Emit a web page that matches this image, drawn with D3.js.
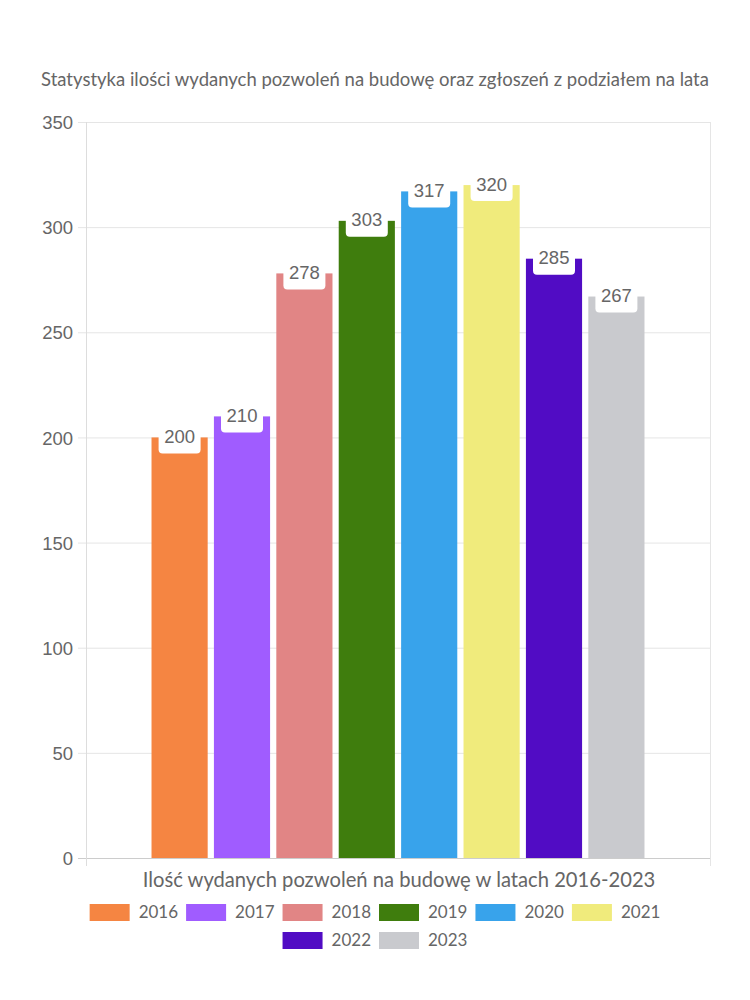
<!DOCTYPE html>
<html><head><meta charset="utf-8">
<script src="https://cdn.jsdelivr.net/npm/d3@7"></script>
<style>body{margin:0;background:#fff}svg{display:block}</style>
</head><body>
<script>
const years = ["2016","2017","2018","2019","2020","2021","2022","2023"];
const values = [200,210,278,303,317,320,285,267];
const colors = ["#F58542","#A05CFF","#E18585","#3F7D0D","#38A3EB","#F0EB7C","#510CC4","#C9CACE"];
const yTicks = [0,50,100,150,200,250,300,350];
const title = "Statystyka ilości wydanych pozwoleń na budowę oraz zgłoszeń z podziałem na lata";
const xTitle = "Ilość wydanych pozwoleń na budowę w latach 2016-2023";
const category = ["Ilość wydanych pozwoleń"];

const W=750,H=1000;
const svg=d3.select("body").append("svg").attr("width",W).attr("height",H);
const L=86,R=710,T=122,B=858;
const textFont="Lato, 'Noto Sans', sans-serif";
const numFont="'Liberation Sans', Arial, sans-serif";
const gray="#666";

function fitText(sel,target){
  sel.attr("font-size",10);
  const w=sel.node().getComputedTextLength();
  sel.attr("font-size",(10*target/w).toFixed(2));
}

const tt=svg.append("text").attr("x",375).attr("y",86).attr("text-anchor","middle")
  .attr("font-family",textFont).attr("fill",gray).text(title);
fitText(tt,668);

const y=d3.scaleLinear().domain([0,350]).range([B,T]);
const x0=d3.scaleBand().domain(category).range([L,R]).paddingInner(0).paddingOuter(0.125);
const x1=d3.scaleBand().domain(years).range([0,x0.bandwidth()]).paddingInner(0.1).paddingOuter(0.05);

// grid
svg.append("g").selectAll("line").data(yTicks).join("line")
  .attr("x1",L-8).attr("x2",R).attr("y1",d=>y(d)+0.5).attr("y2",d=>y(d)+0.5)
  .attr("stroke",d=>d===0?"#ccc":"#e5e5e5");
svg.append("line").attr("x1",L+0.5).attr("x2",L+0.5).attr("y1",T).attr("y2",B+8).attr("stroke","#ddd");
svg.append("line").attr("x1",R+0.5).attr("x2",R+0.5).attr("y1",T).attr("y2",B+8).attr("stroke","#e5e5e5");

const yAxis=d3.axisLeft(y).tickValues(yTicks).tickSize(0).tickPadding(13);
const ga=svg.append("g").attr("transform",`translate(${L},0)`).call(yAxis);
ga.select(".domain").remove();
ga.selectAll("text").attr("font-family",numFont).attr("font-size",18.5).attr("fill",gray).attr("dy","0.36em");

// bars
const g=svg.append("g").attr("transform",`translate(${x0(category[0])},0)`);
g.selectAll("rect").data(years).join("rect")
  .attr("x",(d)=>x1(d)).attr("width",x1.bandwidth())
  .attr("y",(d,i)=>y(values[i])).attr("height",(d,i)=>B-y(values[i]))
  .attr("fill",(d,i)=>colors[i]);

// labels
const lab=g.selectAll("g.lab").data(years).join("g").attr("class","lab")
  .attr("transform",(d,i)=>`translate(${x1(d)+x1.bandwidth()/2},${y(values[i])})`);
lab.append("path").attr("fill","#fff")
  .attr("d",()=>{const w=42,h=16,r=4,t=-12;return `M${-w/2},${t}H${w/2}V${h-r}Q${w/2},${h} ${w/2-r},${h}H${-w/2+r}Q${-w/2},${h} ${-w/2},${h-r}Z`;});
lab.append("text").attr("text-anchor","middle").attr("y",5.5)
  .attr("font-family",numFont).attr("font-size",18.5).attr("fill",gray)
  .text((d,i)=>values[i]);

// x title
const xt=svg.append("text").attr("x",(L+R)/2+1).attr("y",887).attr("text-anchor","middle")
  .attr("font-family",textFont).attr("fill",gray).text(xTitle);
fitText(xt,513);

// legend
const rows=[years.slice(0,6),years.slice(6)];
const rowY=[912,940];
rows.forEach((row,ri)=>{
  const lg=svg.append("g");
  let xx=0;
  row.forEach(yr=>{
    const i=years.indexOf(yr);
    const it=lg.append("g").attr("transform",`translate(${xx},0)`);
    it.append("rect").attr("x",0).attr("y",-8).attr("width",40).attr("height",17).attr("fill",colors[i]);
    const t=it.append("text").attr("x",49).attr("y",6).attr("font-family",textFont)
      .attr("font-size",17).attr("fill",gray).text(yr);
    xx+=49+t.node().getComputedTextLength()+8;
  });
  const tw=xx-8;
  lg.attr("transform",`translate(${375-tw/2},${rowY[ri]})`);
});
</script>
</body></html>
